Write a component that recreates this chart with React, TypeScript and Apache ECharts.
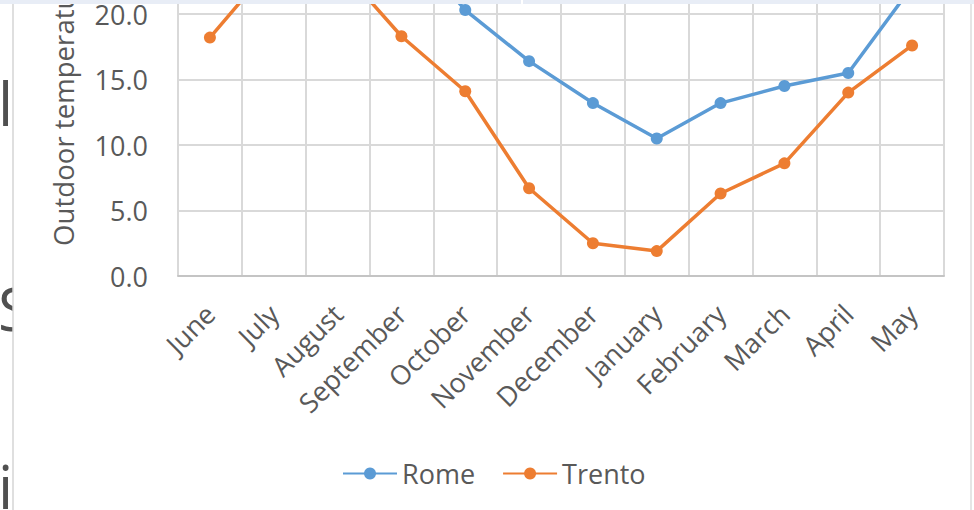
import React, { useEffect, useRef } from "react";
import * as echarts from "echarts";

const categories = [
  "June", "July", "August", "September", "October", "November",
  "December", "January", "February", "March", "April", "May",
];
const romeValues = [26.0, 29.0, 29.2, 26.0, 20.3, 16.4, 13.2, 10.5, 13.2, 14.5, 15.5, 22.1];
const trentoValues = [18.2, 23.9, 23.8, 18.3, 14.1, 6.7, 2.5, 1.9, 6.3, 8.6, 14.0, 17.6];
const seriesNames = ["Rome", "Trento"];
const yAxisTitle = "Outdoor temperature (°C)";

const FONT = '"Open Sans", "Noto Sans", sans-serif';
const TEXT = "#595959";
const GRID = "#D9D9D9";

export default function App() {
  const ref = useRef<HTMLDivElement>(null);
  useEffect(() => {
    if (!ref.current) return;
    const chart = echarts.init(ref.current, null, { renderer: "svg" });
    chart.setOption({
      animation: false,
      backgroundColor: "#ffffff",
      grid: {
        left: 178,
        right: 30,
        top: -117,
        bottom: 234,
        containLabel: false,
        outerBoundsMode: "none",
      },
      xAxis: {
        type: "category",
        data: categories,
        boundaryGap: true,
        axisLine: { show: true, lineStyle: { color: "#C4C4C4", width: 2 } },
        axisTick: { show: false },
        splitLine: { show: true, lineStyle: { color: GRID, width: 2 } },
        axisLabel: {
          rotate: 45,
          interval: 0,
          margin: 33,
          color: TEXT,
          fontSize: 27,
          fontFamily: FONT,
        },
      },
      yAxis: {
        type: "value",
        min: 0,
        max: 30,
        interval: 5,
        name: yAxisTitle,
        nameLocation: "middle",
        nameRotate: 90,
        nameGap: 101,
        nameTextStyle: { color: TEXT, fontSize: 27.6, fontFamily: FONT },
        axisLine: { show: false },
        axisTick: { show: false },
        splitLine: { show: true, lineStyle: { color: GRID, width: 2 } },
        axisLabel: {
          margin: 30,
          color: TEXT,
          fontSize: 27,
          fontFamily: FONT,
          formatter: (v: number) => v.toFixed(1),
        },
      },
      legend: {
        data: seriesNames,
        left: 337,
        top: 455,
        itemWidth: 54,
        itemHeight: 15,
        itemGap: 27,
        textStyle: { color: TEXT, fontSize: 27, fontFamily: FONT },
      },
      series: [
        {
          name: seriesNames[0],
          type: "line",
          data: romeValues,
          symbol: "circle",
          symbolSize: 12,
          color: "#5B9BD5",
          lineStyle: { width: 3.5, color: "#5B9BD5" },
          itemStyle: { color: "#5B9BD5" },
        },
        {
          name: seriesNames[1],
          type: "line",
          data: trentoValues,
          symbol: "circle",
          symbolSize: 12,
          color: "#ED7D31",
          lineStyle: { width: 3.5, color: "#ED7D31" },
          itemStyle: { color: "#ED7D31" },
        },
      ],
      graphic: [
        {
          type: "text",
          z: 1,
          style: { text: "l", x: -2, y: 103, fontSize: 60, fontFamily: FONT, fill: "#505050", verticalAlign: "middle" },
        },
        {
          type: "text",
          z: 1,
          style: { text: "S", x: -2, y: 308, fontSize: 60, fontFamily: FONT, fill: "#505050", verticalAlign: "middle" },
        },
        {
          type: "text",
          z: 1,
          style: { text: "i", x: -2, y: 486, fontSize: 60, fontFamily: FONT, fill: "#505050", verticalAlign: "middle" },
        },
        {
          type: "rect",
          z: 2,
          shape: { x: 13, y: 250, width: 38, height: 120 },
          style: { fill: "#ffffff" },
        },
        {
          type: "line",
          z: 3,
          shape: { x1: 13, y1: 0, x2: 13, y2: 510 },
          style: { stroke: "#D4D4D4", lineWidth: 1.5 },
        },
        {
          type: "line",
          z: 3,
          shape: { x1: 971, y1: 0, x2: 971, y2: 510 },
          style: { stroke: "#DCDCDC", lineWidth: 1.5 },
        },
        {
          type: "rect",
          z: 100,
          shape: { x: 0, y: 0, width: 521, height: 4 },
          style: { fill: "#E8EDF6" },
        },
        {
          type: "rect",
          z: 100,
          shape: { x: 521, y: 0, width: 2, height: 4 },
          style: { fill: "#ffffff" },
        },
        {
          type: "rect",
          z: 100,
          shape: { x: 523, y: 0, width: 451, height: 4 },
          style: { fill: "#E8EDF6" },
        },
      ],
    });
    return () => chart.dispose();
  }, []);
  return (
    <div style={{ position: "absolute", left: 0, top: 0, width: 974, height: 510 }}>
      <div ref={ref} style={{ width: 974, height: 510 }} />
    </div>
  );
}
